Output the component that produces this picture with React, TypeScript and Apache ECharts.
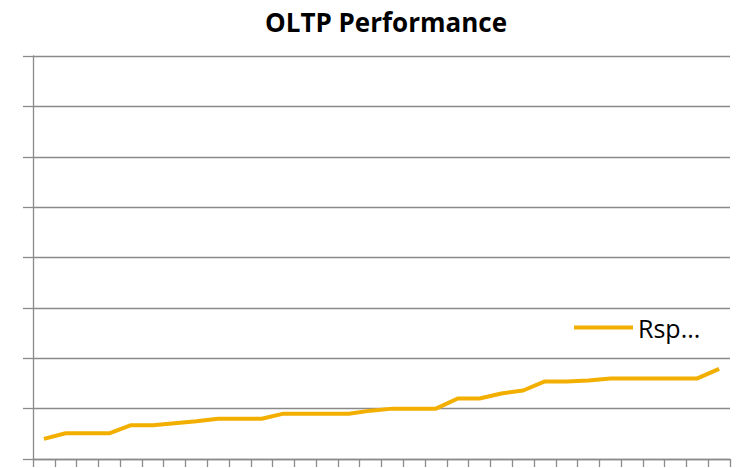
import React, { useEffect, useRef } from "react";
import * as echarts from "echarts";

const categories: string[] = Array.from({ length: 32 }, (_, i) => String(i + 1));
const rspValues: number[] = [
  0.4, 0.51, 0.51, 0.51, 0.67, 0.67, 0.71, 0.75, 0.8, 0.8, 0.8, 0.9, 0.9, 0.9, 0.9, 0.96,
  1.0, 1.0, 1.0, 1.2, 1.2, 1.3, 1.36, 1.54, 1.54, 1.56, 1.6, 1.6, 1.6, 1.6, 1.6, 1.79,
];
const seriesName = "Rsp...";
const chartTitle = "OLTP Performance";

export default function App() {
  const ref = useRef<HTMLDivElement>(null);
  useEffect(() => {
    if (!ref.current) return;
    const chart = echarts.init(ref.current, undefined, { renderer: "svg" });
    chart.setOption({
      animation: false,
      backgroundColor: "#ffffff",
      title: {
        text: chartTitle,
        left: 260,
        top: 4,
        textStyle: {
          fontFamily: "Open Sans",
          fontWeight: "bold",
          fontSize: 26,
          color: "#000000",
        },
      },
      legend: {
        left: 569,
        top: 310,
        itemWidth: 59,
        itemHeight: 14,
        itemGap: 10,
        textStyle: {
          fontFamily: "Open Sans",
          fontSize: 25,
          color: "#000000",
        },
        data: [{ name: seriesName, icon: "path://M0,5 L59,5 L59,9 L0,9 Z" }],
      },
      grid: { left: 33, right: 6, top: 56, bottom: 9, containLabel: false },
      xAxis: {
        type: "category",
        data: categories,
        boundaryGap: true,
        axisLine: { show: true, lineStyle: { color: "#8a8a8a", width: 1.3 } },
        axisTick: { show: true, length: 8, interval: 0, lineStyle: { color: "#8a8a8a", width: 1.3 } },
        axisLabel: { show: false },
        splitLine: { show: false },
      },
      yAxis: {
        type: "value",
        min: 0,
        max: 8,
        interval: 1,
        axisLine: { show: true, lineStyle: { color: "#8a8a8a", width: 1.3 } },
        axisTick: { show: true, length: 10, lineStyle: { color: "#8a8a8a", width: 1.3 } },
        axisLabel: { show: false },
        splitLine: { show: true, lineStyle: { color: "#8a8a8a", width: 1.3 } },
      },
      series: [
        {
          name: seriesName,
          type: "line",
          data: rspValues,
          showSymbol: false,
          symbol: "none",
          color: "#F2AF00",
          lineStyle: { color: "#F2AF00", width: 4 },
        },
      ],
    });
    return () => chart.dispose();
  }, []);
  return <div ref={ref} style={{ width: 736, height: 468, position: "absolute", left: 0, top: 0 }} />;
}
